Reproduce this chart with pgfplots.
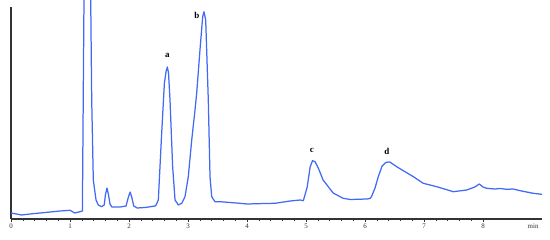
\documentclass[border=0pt]{standalone}
\usepackage{fontspec}
\setmainfont{Liberation Serif}
\usepackage{pgfplots}
\pgfplotsset{compat=1.18}
\definecolor{trace}{RGB}{65,105,245}
\definecolor{axcol}{RGB}{50,50,55}
\begin{document}
\begin{tikzpicture}
\begin{axis}[
  at={(0,0)}, anchor=origin,
  scale only axis, width=531bp, height=212bp,
  xmin=0, xmax=9, ymin=0, ymax=212,
  axis x line=bottom, axis y line=left,
  axis line style={-, axcol, line width=1.2pt},
  xtick={0,1,2,3,4,5,6,7,8}, minor x tick num=4,
  ytick=\empty,
  tick align=outside,
  major tick length=3bp, minor tick length=2bp,
  tick style={axcol, line width=0.5pt},
  xticklabel style={font=\fontsize{7}{8}\selectfont, text=axcol, inner sep=1.5pt},
  /pgf/number format/assume math mode=true,
  clip=false,
]
\addplot[trace, line width=1.25pt, line join=round] coordinates {
(0,6) (0.18,4) (0.32,5) (0.58,6.5) (0.83,8) (1.0,8.7) (1.08,6) (1.17,7.3) (1.21,8)
(1.237,219) (1.29,330) (1.351,219) (1.368,119) (1.395,39) (1.441,19) (1.48,14) (1.537,12.3)
(1.58,14) (1.60,24) (1.627,31) (1.653,24) (1.678,15) (1.71,12) (1.85,12)
(1.95,13) (1.99,22) (2.02,27) (2.05,21) (2.08,13) (2.14,11) (2.27,11.5) (2.39,12.5) (2.44,13)
(2.46,14) (2.497,19) (2.554,86) (2.6,136) (2.63,148) (2.65,152) (2.67,146) (2.695,119) (2.74,52) (2.78,19) (2.836,14)
(2.893,15.7) (2.949,22.3) (3.005,42.3) (3.063,79) (3.119,109) (3.147,125.7) (3.203,169) (3.249,202.3) (3.271,207.3)
(3.3,199) (3.344,119) (3.373,42.3) (3.402,22.3) (3.458,17.3) (3.542,17.3) (3.881,15.7)
(4.0,15) (4.305,15.5) (4.475,15.7) (4.73,18) (4.9,19) (4.955,18.3)
(5.02,32) (5.07,52) (5.11,58.3) (5.153,57.3) (5.21,50.7) (5.29,39) (5.46,26) (5.63,20.7) (5.75,19.5) (6.03,20) (6.085,20.5)
(6.11,22.3) (6.17,31) (6.225,42.3) (6.29,53) (6.356,56.7) (6.42,57) (6.537,52.3) (6.678,47.3) (6.819,42.3) (6.988,35.7)
(7.215,32.3) (7.497,27.3) (7.724,29) (7.86,32) (7.937,35) (8.0,32) (8.063,30.7) (8.2,30) (8.29,30.5) (8.4,29.7) (8.51,30) (8.63,28.3) (8.85,25.7) (9.0,24.7)
};
\node[font=\fontsize{9}{10}\selectfont\bfseries] at (axis cs:2.65,164) {a};
\node[font=\fontsize{9}{10}\selectfont\bfseries] at (axis cs:3.15,204) {b};
\node[font=\fontsize{9}{10}\selectfont\bfseries] at (axis cs:5.10,69) {c};
\node[font=\fontsize{9}{10}\selectfont\bfseries] at (axis cs:6.37,68) {d};
\node[font=\fontsize{7}{8}\selectfont, text=axcol, anchor=north, inner sep=1.5pt] at ([yshift=-3bp]axis cs:8.85,0) {min};
\end{axis}
\pgfresetboundingbox
\path[use as bounding box] (-11bp,-21bp) rectangle (539bp,219bp);
\end{tikzpicture}
\end{document}
